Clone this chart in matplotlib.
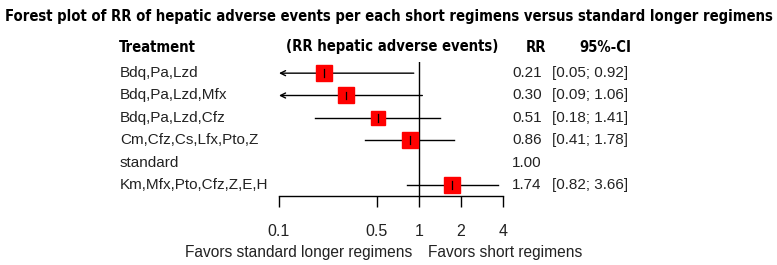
import matplotlib
matplotlib.use("Agg")
import matplotlib.pyplot as plt

# data
treatments = ["Bdq,Pa,Lzd", "Bdq,Pa,Lzd,Mfx", "Bdq,Pa,Lzd,Cfz",
              "Cm,Cfz,Cs,Lfx,Pto,Z", "standard", "Km,Mfx,Pto,Cfz,Z,E,H"]
rr = [0.21, 0.30, 0.51, 0.86, 1.00, 1.74]
ci_low = [0.05, 0.09, 0.18, 0.41, None, 0.82]
ci_high = [0.92, 1.06, 1.41, 1.78, None, 3.66]
xticks = [0.1, 0.5, 1, 2, 4]

plt.rcParams["font.family"] = ["Liberation Sans", "DejaVu Sans"]

W, H = 777, 265
fig = plt.figure(figsize=(W / 100, H / 100), dpi=100)
renderer = fig.canvas.get_renderer()

def fx(px):
    return px / W

def fy(py):
    return 1 - py / H

# forest axes: x from 0.1 (px 279) to 4 (px 503), rows 73..185 px
ax = fig.add_axes([fx(279), fy(196), fx(503) - fx(279), (196 - 62) / H])
ax.set_xscale("log")
ax.set_xlim(0.1, 4)
ax.set_ylim(5.5, -0.5)
for s in ["top", "right", "left"]:
    ax.spines[s].set_visible(False)
ax.spines["bottom"].set_linewidth(1.0)
ax.set_yticks([])
ax.set_xticks(xticks)
ax.set_xticklabels([f"{t:g}" for t in xticks], fontsize=11.5, color="#222222")
ax.xaxis.set_minor_locator(plt.NullLocator())
ax.tick_params(axis="x", length=8, width=1.0, pad=12, direction="out")

ax.axvline(1, color="black", lw=1.0)

sizes = [11, 11, 10, 11, 0, 11]
for i, (m, lo, hi) in enumerate(zip(rr, ci_low, ci_high)):
    if lo is None:
        continue
    if lo < 0.1:
        ax.annotate("", xy=(0.1, i), xytext=(hi, i),
                    arrowprops=dict(arrowstyle="->", lw=1.0, color="black",
                                    shrinkA=0, shrinkB=0, mutation_scale=9))
    else:
        ax.plot([lo, hi], [i, i], color="black", lw=1.0)
    ax.plot(m, i, marker="s", ms=sizes[i], color="red", mec="red", zorder=3)
    ax.plot([m, m], [i - 0.17, i + 0.17], color="black", lw=0.9, zorder=4)

# title and headers (condensed bold look)
title = fig.text(fx(389), fy(16), "Forest plot of RR of hepatic adverse events per each short regimens versus standard longer regimens",
                 ha="center", va="center", fontsize=12, fontweight="bold", family="DejaVu Sans",
                 fontstretch="condensed")
w = title.get_window_extent(renderer=renderer).width
bold_size = 12 * 768 / w
title.set_fontsize(bold_size)

hdr = dict(va="center", fontsize=bold_size, fontweight="bold", family="DejaVu Sans", fontstretch="condensed")
fig.text(fx(119), fy(47), "Treatment", ha="left", **hdr)
fig.text(fx(286), fy(47), "(RR hepatic adverse events)", ha="left", **hdr)
fig.text(fx(526), fy(47), "RR", ha="left", **hdr)
fig.text(fx(579), fy(47), "95%-CI", ha="left", **hdr)

for i, name in enumerate(treatments):
    py = 73 + 22.4 * i
    fig.text(fx(120), fy(py), name, ha="left", va="center", fontsize=11, color="#222222")
    fig.text(fx(512), fy(py), f"{rr[i]:.2f}", ha="left", va="center", fontsize=11, color="#222222")
    if ci_low[i] is not None:
        fig.text(fx(552), fy(py), f"[{ci_low[i]:.2f}; {ci_high[i]:.2f}]", ha="left", va="center",
                 fontsize=11, color="#222222")

fig.text(fx(412), fy(253), "Favors standard longer regimens", ha="right", va="center", fontsize=11.2, color="#222222")
fig.text(fx(428), fy(253), "Favors short regimens", ha="left", va="center", fontsize=11.2, color="#222222")

fig.savefig("out.png", dpi=100)
